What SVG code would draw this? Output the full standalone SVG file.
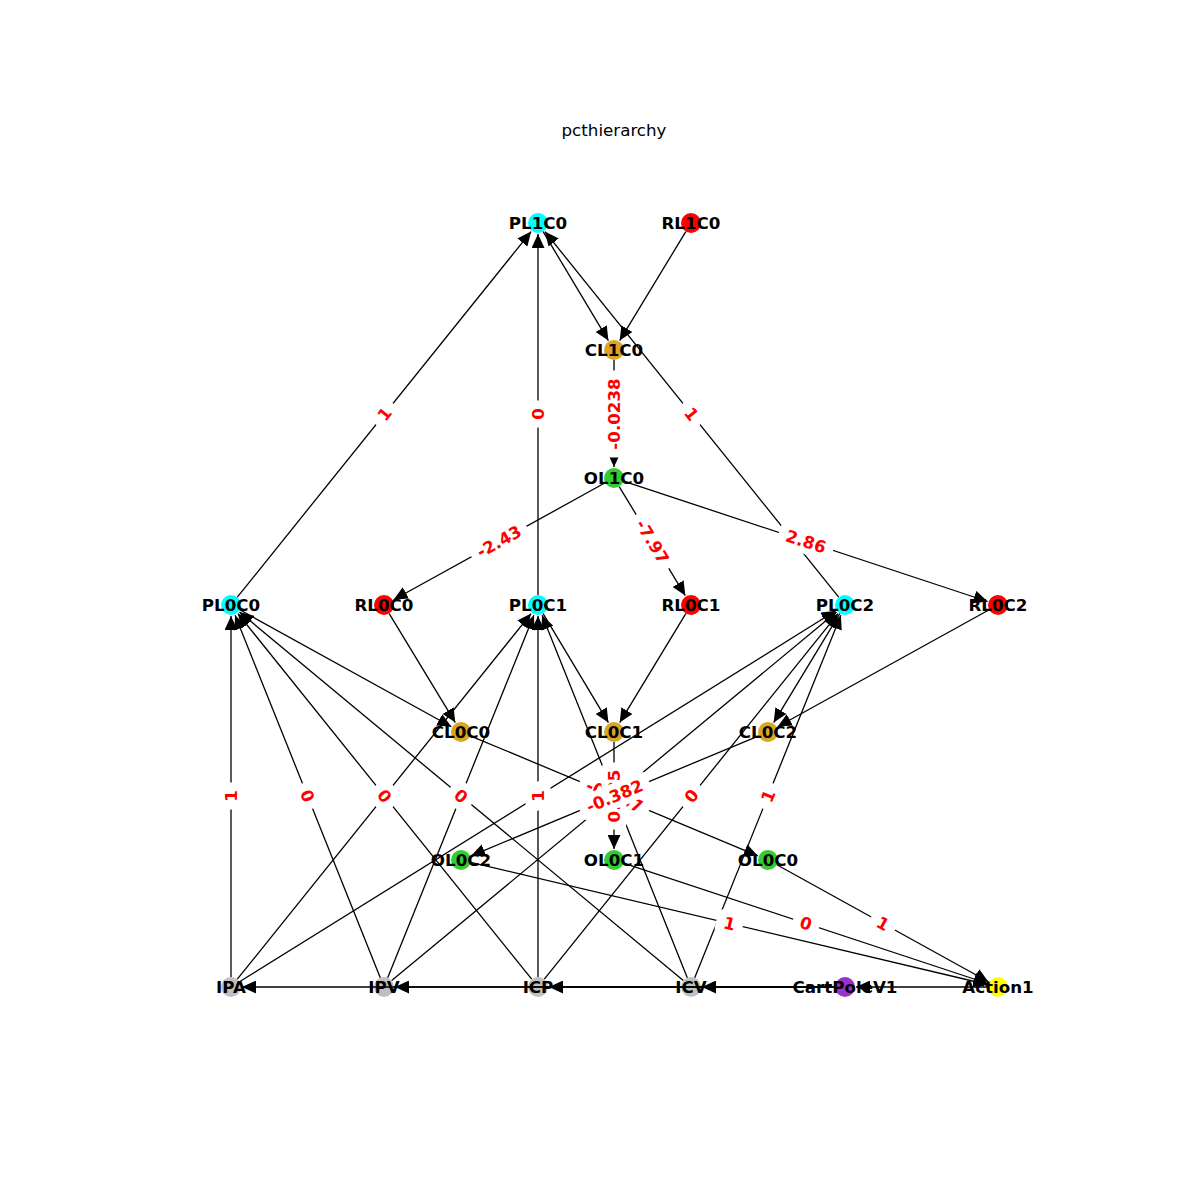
<svg xmlns="http://www.w3.org/2000/svg" width="1200" height="1200" viewBox="0 0 1200 1200">
<style>
.bg{fill:#fff}
.nl{font-family:"DejaVu Sans","Liberation Sans",sans-serif;font-weight:bold;font-size:16.7px;text-anchor:middle;dominant-baseline:central;fill:#000}
.title{font-family:"DejaVu Sans","Liberation Sans",sans-serif;font-size:16.7px;text-anchor:middle;dominant-baseline:central;fill:#000}
.e{stroke:#000;stroke-width:1.3;fill:none;marker-end:url(#ah)}
.el rect{fill:#fff;stroke:#fff}
.el text{font-family:"DejaVu Sans","Liberation Sans",sans-serif;font-weight:bold;font-size:16.7px;text-anchor:middle;dominant-baseline:central;fill:#f00}
.pl{fill:#00ffff}.rl{fill:#ff0000}.cl{fill:#daa520}.ol{fill:#32cd32}.in{fill:#c0c0c0}.env{fill:#9932cc}.act{fill:#ffff00}
</style>
<defs>
<marker id="ah" markerUnits="userSpaceOnUse" markerWidth="14" markerHeight="13" viewBox="0 0 14 13" refX="14" refY="6.5" orient="auto"><path d="M0,0 L14,6.5 L0,13 Z" fill="#000"/></marker>
</defs>
<rect class="bg" x="0" y="0" width="1200" height="1200"/>
<text class="title" x="614" y="130">pcthierarchy</text>

<g id="nodes">
<g id="PL1C0"><circle class="pl" cx="538" cy="223" r="10"/><text class="nl" x="538" y="223">PL1C0</text></g>
<g id="RL1C0"><circle class="rl" cx="691" cy="223" r="10"/><text class="nl" x="691" y="223">RL1C0</text></g>
<g id="CL1C0"><circle class="cl" cx="614" cy="350" r="10"/><text class="nl" x="614" y="350">CL1C0</text></g>
<g id="OL1C0"><circle class="ol" cx="614" cy="478" r="10"/><text class="nl" x="614" y="478">OL1C0</text></g>
<g id="PL0C0"><circle class="pl" cx="231" cy="605" r="10"/><text class="nl" x="231" y="605">PL0C0</text></g>
<g id="RL0C0"><circle class="rl" cx="384" cy="605" r="10"/><text class="nl" x="384" y="605">RL0C0</text></g>
<g id="PL0C1"><circle class="pl" cx="538" cy="605" r="10"/><text class="nl" x="538" y="605">PL0C1</text></g>
<g id="RL0C1"><circle class="rl" cx="691" cy="605" r="10"/><text class="nl" x="691" y="605">RL0C1</text></g>
<g id="PL0C2"><circle class="pl" cx="845" cy="605" r="10"/><text class="nl" x="845" y="605">PL0C2</text></g>
<g id="RL0C2"><circle class="rl" cx="998" cy="605" r="10"/><text class="nl" x="998" y="605">RL0C2</text></g>
<g id="CL0C0"><circle class="cl" cx="461" cy="732" r="10"/><text class="nl" x="461" y="732">CL0C0</text></g>
<g id="CL0C1"><circle class="cl" cx="614" cy="732" r="10"/><text class="nl" x="614" y="732">CL0C1</text></g>
<g id="CL0C2"><circle class="cl" cx="768" cy="732" r="10"/><text class="nl" x="768" y="732">CL0C2</text></g>
<g id="OL0C2"><circle class="ol" cx="461" cy="860" r="10"/><text class="nl" x="461" y="860">OL0C2</text></g>
<g id="OL0C1"><circle class="ol" cx="614" cy="860" r="10"/><text class="nl" x="614" y="860">OL0C1</text></g>
<g id="OL0C0"><circle class="ol" cx="768" cy="860" r="10"/><text class="nl" x="768" y="860">OL0C0</text></g>
<g id="IPA"><circle class="in" cx="231" cy="987" r="10"/><text class="nl" x="231" y="987">IPA</text></g>
<g id="IPV"><circle class="in" cx="384" cy="987" r="10"/><text class="nl" x="384" y="987">IPV</text></g>
<g id="ICP"><circle class="in" cx="538" cy="987" r="10"/><text class="nl" x="538" y="987">ICP</text></g>
<g id="ICV"><circle class="in" cx="691" cy="987" r="10"/><text class="nl" x="691" y="987">ICV</text></g>
<g id="CartPoleV1"><circle class="env" cx="845" cy="987" r="10"/><text class="nl" x="845" y="987">CartPoleV1</text></g>
<g id="Action1"><circle class="act" cx="998" cy="987" r="10"/><text class="nl" x="998" y="987">Action1</text></g>
</g>

<g id="edges">
<line class="e" x1="237.3" y1="597.2" x2="531.1" y2="231.6"/>
<line class="e" x1="538" y1="595" x2="538" y2="234"/>
<line class="e" x1="838.7" y1="597.2" x2="544.9" y2="231.6"/>
<line class="e" x1="543.1" y1="231.6" x2="608.4" y2="340.6"/>
<line class="e" x1="685.8" y1="231.6" x2="619.7" y2="340.6"/>
<line class="e" x1="614" y1="360" x2="614" y2="467"/>
<line class="e" x1="605.2" y1="482.8" x2="393.6" y2="599.7"/>
<line class="e" x1="619.2" y1="486.6" x2="685.3" y2="595.6"/>
<line class="e" x1="623.5" y1="481.1" x2="987.6" y2="601.5"/>
<line class="e" x1="239.8" y1="609.8" x2="451.4" y2="726.7"/>
<line class="e" x1="389.2" y1="613.6" x2="455.3" y2="722.6"/>
<line class="e" x1="543.1" y1="613.6" x2="608.4" y2="722.6"/>
<line class="e" x1="685.8" y1="613.6" x2="619.7" y2="722.6"/>
<line class="e" x1="839.8" y1="613.6" x2="773.7" y2="722.6"/>
<line class="e" x1="989.2" y1="609.8" x2="777.6" y2="726.7"/>
<line class="e" x1="470.2" y1="735.8" x2="757.8" y2="855.8"/>
<line class="e" x1="614" y1="742" x2="614" y2="849"/>
<line class="e" x1="758.8" y1="735.8" x2="471.2" y2="855.8"/>
<line class="e" x1="776.8" y1="864.8" x2="988.4" y2="981.7"/>
<line class="e" x1="623.5" y1="863.1" x2="987.6" y2="983.5"/>
<line class="e" x1="470.7" y1="862.3" x2="987.3" y2="984.5"/>
<line class="e" x1="231" y1="977" x2="231" y2="616"/>
<line class="e" x1="380.3" y1="977.7" x2="235.1" y2="615.2"/>
<line class="e" x1="531.7" y1="979.2" x2="237.9" y2="613.6"/>
<line class="e" x1="683.3" y1="980.6" x2="239.5" y2="612.0"/>
<line class="e" x1="237.3" y1="979.2" x2="531.1" y2="613.6"/>
<line class="e" x1="387.7" y1="977.7" x2="533.9" y2="615.2"/>
<line class="e" x1="538" y1="977" x2="538" y2="616"/>
<line class="e" x1="687.3" y1="977.7" x2="542.1" y2="615.2"/>
<line class="e" x1="239.5" y1="981.7" x2="835.7" y2="610.8"/>
<line class="e" x1="391.7" y1="980.6" x2="836.5" y2="612.0"/>
<line class="e" x1="544.3" y1="979.2" x2="838.1" y2="613.6"/>
<line class="e" x1="694.7" y1="977.7" x2="840.9" y2="615.2"/>
<line class="e" x1="835" y1="987" x2="242" y2="987"/>
<line class="e" x1="835" y1="987" x2="395" y2="987"/>
<line class="e" x1="835" y1="987" x2="549" y2="987"/>
<line class="e" x1="835" y1="987" x2="702" y2="987"/>
<line class="e" x1="988" y1="987" x2="856" y2="987"/>
</g>

<g id="edge-labels" class="el">
<g transform="translate(231,796) rotate(-90)"><rect x="-13" y="-12" width="26" height="24" rx="5"/><text>1</text></g>
<g transform="translate(384.5,796) rotate(-51.2)"><rect x="-13" y="-12" width="26" height="24" rx="5"/><text>0</text></g>
<g transform="translate(538,796) rotate(-31.9)"><rect x="-13" y="-12" width="26" height="24" rx="5"/><text>0</text></g>
<g transform="translate(307.5,796) rotate(68.2)"><rect x="-13" y="-12" width="26" height="24" rx="5"/><text>0</text></g>
<g transform="translate(461,796) rotate(-68)"><rect x="-13" y="-12" width="26" height="24" rx="5"/><text>0</text></g>
<g transform="translate(614.5,796) rotate(-39.6)"><rect x="-13" y="-12" width="26" height="24" rx="5"/><text>0</text></g>
<g transform="translate(384.5,796) rotate(51.2)"><rect x="-13" y="-12" width="26" height="24" rx="5"/><text>0</text></g>
<g transform="translate(538,796) rotate(-90)"><rect x="-13" y="-12" width="26" height="24" rx="5"/><text>1</text></g>
<g transform="translate(691.5,796) rotate(-51.2)"><rect x="-13" y="-12" width="26" height="24" rx="5"/><text>0</text></g>
<g transform="translate(461,796) rotate(39.7)"><rect x="-13" y="-12" width="26" height="24" rx="5"/><text>0</text></g>
<g transform="translate(614.5,796) rotate(68.2)"><rect x="-13" y="-12" width="26" height="24" rx="5"/><text>0</text></g>
<g transform="translate(768,796) rotate(-68)"><rect x="-13" y="-12" width="26" height="24" rx="5"/><text>1</text></g>
<g transform="translate(384.5,414) rotate(-51.2)"><rect x="-13" y="-12" width="26" height="24" rx="5"/><text>1</text></g>
<g transform="translate(538,414) rotate(-90)"><rect x="-13" y="-12" width="26" height="24" rx="5"/><text>0</text></g>
<g transform="translate(691.5,414) rotate(51.2)"><rect x="-13" y="-12" width="26" height="24" rx="5"/><text>1</text></g>
<g transform="translate(614,414) rotate(-90)"><rect x="-43" y="-12" width="86" height="24" rx="5"/><text>-0.0238</text></g>
<g transform="translate(499,541.5) rotate(-28.9)"><rect x="-31" y="-12" width="62" height="24" rx="5"/><text>-2.43</text></g>
<g transform="translate(652.5,541.5) rotate(58.8)"><rect x="-31" y="-12" width="62" height="24" rx="5"/><text>-7.97</text></g>
<g transform="translate(806,541.5) rotate(18.3)"><rect x="-28" y="-12" width="56" height="24" rx="5"/><text>2.86</text></g>
<g transform="translate(883,923.5) rotate(28.9)"><rect x="-13" y="-12" width="26" height="24" rx="5"/><text>1</text></g>
<g transform="translate(806,923.5) rotate(18.3)"><rect x="-13" y="-12" width="26" height="24" rx="5"/><text>0</text></g>
<g transform="translate(729.5,923.5) rotate(13.3)"><rect x="-13" y="-12" width="26" height="24" rx="5"/><text>1</text></g>
<g transform="translate(614.5,796) rotate(22.6)"><rect x="-37" y="-12" width="74" height="24" rx="5"/><text>-0.557</text></g>
<g transform="translate(614,796) rotate(-90)"><rect x="-33" y="-12" width="66" height="24" rx="5"/><text>0.125</text></g>
<g transform="translate(614.5,796) rotate(-22.6)"><rect x="-37" y="-12" width="74" height="24" rx="5"/><text>-0.382</text></g>
</g>
</svg>
